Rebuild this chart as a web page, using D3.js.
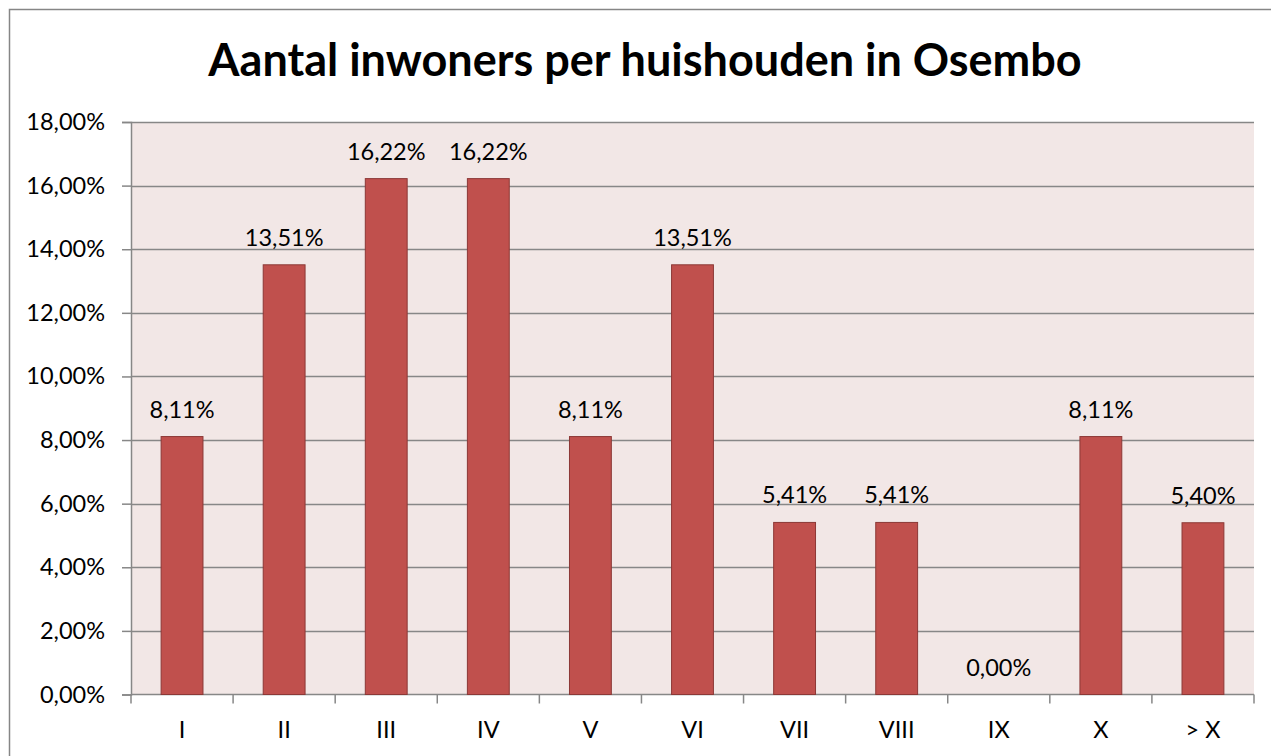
<!DOCTYPE html>
<html>
<head>
<meta charset="utf-8">
<script src="https://d3js.org/d3.v7.min.js"></script>
<style>
  body { margin: 0; background: #fff; }
  text { font-family: Lato, "Open Sans", sans-serif; }
</style>
</head>
<body>
<div id="chart"></div>
<script>
var categories = ["I", "II", "III", "IV", "V", "VI", "VII", "VIII", "IX", "X", "> X"];
var values = [8.11, 13.51, 16.22, 16.22, 8.11, 13.51, 5.41, 5.41, 0.00, 8.11, 5.40];
var yTicks = [0, 2, 4, 6, 8, 10, 12, 14, 16, 18];
var title = "Aantal inwoners per huishouden in Osembo";

var W = 1271, H = 756;
var plot = {left: 131, top: 122, right: 1254, bottom: 694.5};
var fs = 23.5;

var svg = d3.select("#chart").append("svg")
  .attr("width", W).attr("height", H);

// outer chart border
svg.append("rect")
  .attr("x", 9.5).attr("y", 9.5)
  .attr("width", W).attr("height", H)
  .attr("fill", "#fff").attr("stroke", "#868686").attr("stroke-width", 1.5);

svg.append("text")
  .attr("x", 645).attr("y", 76)
  .attr("text-anchor", "middle")
  .attr("font-size", 45).attr("font-weight", "bold")
  .attr("fill", "#000")
  .text(title);

var x = d3.scaleBand().domain(categories)
  .range([plot.left, plot.right]).paddingInner(0.59).paddingOuter(0.295);
var xb = d3.scaleBand().domain(categories).range([plot.left, plot.right]);
var y = d3.scaleLinear().domain([0, 18]).range([plot.bottom, plot.top]);

svg.append("rect")
  .attr("x", plot.left).attr("y", plot.top)
  .attr("width", plot.right - plot.left).attr("height", plot.bottom - plot.top)
  .attr("fill", "#F2E7E6");

// gridlines
svg.append("g").selectAll("line").data(yTicks.slice(1)).join("line")
  .attr("x1", plot.left).attr("x2", plot.right)
  .attr("y1", function(d) { return Math.round(y(d)) + 0.5; })
  .attr("y2", function(d) { return Math.round(y(d)) + 0.5; })
  .attr("stroke", "#878787").attr("stroke-width", 1.5);

// y axis
var yAxis = svg.append("g")
  .attr("transform", "translate(" + plot.left + ",0)")
  .call(d3.axisLeft(y).tickValues(yTicks).tickSize(9).tickPadding(17)
    .tickFormat(function(d) { return d3.format(".2f")(d).replace(".", ",") + "%"; }));
yAxis.selectAll("line").attr("stroke", "#878787").attr("stroke-width", 1.5);
yAxis.select(".domain").attr("stroke", "#878787").attr("stroke-width", 1.5);
yAxis.selectAll("text").attr("font-size", fs).attr("fill", "#000")
  .attr("font-family", "Lato, sans-serif");

// x axis
var xAxis = svg.append("g")
  .attr("transform", "translate(0," + plot.bottom + ")");
xAxis.append("line")
  .attr("x1", plot.left).attr("x2", plot.right)
  .attr("stroke", "#878787").attr("stroke-width", 1.5);
xAxis.selectAll("line.tk").data(categories.concat(["end"])).join("line")
  .attr("class", "tk")
  .attr("x1", function(d) { return d === "end" ? plot.right : xb(d); })
  .attr("x2", function(d) { return d === "end" ? plot.right : xb(d); })
  .attr("y1", 0).attr("y2", 9)
  .attr("stroke", "#878787").attr("stroke-width", 1.5);
xAxis.selectAll("text").data(categories).join("text")
  .attr("x", function(d) { return xb(d) + xb.bandwidth() / 2; })
  .attr("y", 43)
  .attr("text-anchor", "middle")
  .attr("font-size", fs).attr("fill", "#000")
  .text(function(d) { return d; });

// bars
svg.append("g").selectAll("rect").data(values).join("rect")
  .attr("x", function(d, i) { return x(categories[i]); })
  .attr("y", function(d) { return y(d); })
  .attr("width", x.bandwidth())
  .attr("height", function(d) { return plot.bottom - y(d); })
  .attr("fill", "#C0504D").attr("stroke", "#8C3836").attr("stroke-width", 1);

// data labels
svg.append("g").selectAll("text").data(values).join("text")
  .attr("x", function(d, i) { return x(categories[i]) + x.bandwidth() / 2; })
  .attr("y", function(d) { return y(d) - 19; })
  .attr("text-anchor", "middle")
  .attr("font-size", fs).attr("fill", "#000")
  .text(function(d) { return d3.format(".2f")(d).replace(".", ",") + "%"; });
</script>
</body>
</html>
